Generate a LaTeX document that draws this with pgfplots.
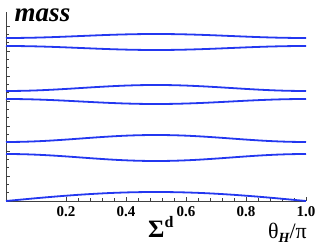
\documentclass[border=0pt]{standalone}
\usepackage{fontspec}
\setmainfont{Liberation Serif}
\usepackage{pgfplots}
\pgfplotsset{compat=1.18}
\definecolor{curve}{RGB}{35,55,240}
\begin{document}
\begin{tikzpicture}
\path[use as bounding box] (-6pt,-45pt) rectangle (310pt,201pt);
\begin{axis}[
  at={(0pt,0pt)}, anchor=south west,
  scale only axis, width=300pt, height=189pt,
  xmin=0, xmax=1, ymin=0, ymax=189,
  axis x line=bottom, axis y line=left,
  axis line style={-, black!75, line width=0.6pt},
  xtick={0.2,0.4,0.6,0.8,1.0},
  xticklabels={0.2,0.4,0.6,0.8,1.0},
  minor x tick num=4,
  ytick={0,25,50,75,100,125,150,175},
  yticklabels={},
  minor y tick num=2,
  tick align=inside,
  major tick length=4pt, minor tick length=2.5pt,
  tick style={black!75, line width=0.5pt},
  xticklabel style={font=\fontsize{15}{15}\selectfont\bfseries, anchor=base, yshift=-16pt},
  clip=false,
]
\addplot[curve, line width=1.8pt, smooth] coordinates {
(0,0) (0.05,1.4) (0.1,2.78) (0.15,4.09) (0.2,5.29) (0.25,6.36) (0.3,7.28) (0.35,8.02) (0.4,8.56) (0.45,8.89) (0.5,9)
(0.55,8.89) (0.6,8.56) (0.65,8.02) (0.7,7.28) (0.75,6.36) (0.8,5.29) (0.85,4.09) (0.9,2.78) (0.95,1.4) (1,0)};
\addplot[curve, line width=1.8pt, smooth] coordinates {
(0,47) (0.05,46.83) (0.1,46.33) (0.15,45.56) (0.2,44.59) (0.25,43.5) (0.3,42.42) (0.35,41.44) (0.4,40.67) (0.45,40.17) (0.5,40)
(0.55,40.17) (0.6,40.67) (0.65,41.44) (0.7,42.42) (0.75,43.5) (0.8,44.59) (0.85,45.56) (0.9,46.33) (0.95,46.83) (1,47)};
\addplot[curve, line width=1.8pt, smooth] coordinates {
(0,59) (0.05,59.17) (0.1,59.67) (0.15,60.44) (0.2,61.42) (0.25,62.5) (0.3,63.59) (0.35,64.56) (0.4,65.34) (0.45,65.83) (0.5,66)
(0.55,65.83) (0.6,65.34) (0.65,64.56) (0.7,63.59) (0.75,62.5) (0.8,61.42) (0.85,60.44) (0.9,59.67) (0.95,59.17) (1,59)};
\addplot[curve, line width=1.8pt, smooth] coordinates {
(0,102) (0.05,101.88) (0.1,101.52) (0.15,100.97) (0.2,100.28) (0.25,99.5) (0.3,98.73) (0.35,98.03) (0.4,97.48) (0.45,97.12) (0.5,97)
(0.55,97.12) (0.6,97.48) (0.65,98.03) (0.7,98.73) (0.75,99.5) (0.8,100.28) (0.85,100.97) (0.9,101.52) (0.95,101.88) (1,102)};
\addplot[curve, line width=1.8pt, smooth] coordinates {
(0,110) (0.05,110.15) (0.1,110.57) (0.15,111.24) (0.2,112.07) (0.25,113) (0.3,113.93) (0.35,114.76) (0.4,115.43) (0.45,115.86) (0.5,116)
(0.55,115.86) (0.6,115.43) (0.65,114.76) (0.7,113.93) (0.75,113) (0.8,112.07) (0.85,111.24) (0.9,110.57) (0.95,110.15) (1,110)};
\addplot[curve, line width=1.8pt, smooth] coordinates {
(0,155) (0.05,154.9) (0.1,154.62) (0.15,154.18) (0.2,153.62) (0.25,153) (0.3,152.38) (0.35,151.82) (0.4,151.38) (0.45,151.1) (0.5,151)
(0.55,151.1) (0.6,151.38) (0.65,151.82) (0.7,152.38) (0.75,153) (0.8,153.62) (0.85,154.18) (0.9,154.62) (0.95,154.9) (1,155)};
\addplot[curve, line width=1.8pt, smooth] coordinates {
(0,163) (0.05,163.1) (0.1,163.38) (0.15,163.82) (0.2,164.38) (0.25,165) (0.3,165.62) (0.35,166.18) (0.4,166.62) (0.45,166.9) (0.5,167)
(0.55,166.9) (0.6,166.62) (0.65,166.18) (0.7,165.62) (0.75,165) (0.8,164.38) (0.85,163.82) (0.9,163.38) (0.95,163.1) (1,163)};
\end{axis}
\node[anchor=base, inner sep=0pt] at (36.5pt,179pt) {\fontsize{27}{27}\selectfont\bfseries\itshape mass};
\node[anchor=base west, inner sep=0pt] at (142pt,-37pt) {\fontsize{25}{25}\selectfont\bfseries Σ\raisebox{0.4em}{\fontsize{16}{16}\selectfont d}};
\node[anchor=base west, inner sep=0pt] at (262pt,-38pt) {\fontsize{22}{22}\selectfont θ\raisebox{-0.15em}{\fontsize{14}{14}\selectfont\bfseries\itshape H}/π};
\end{tikzpicture}
\end{document}
